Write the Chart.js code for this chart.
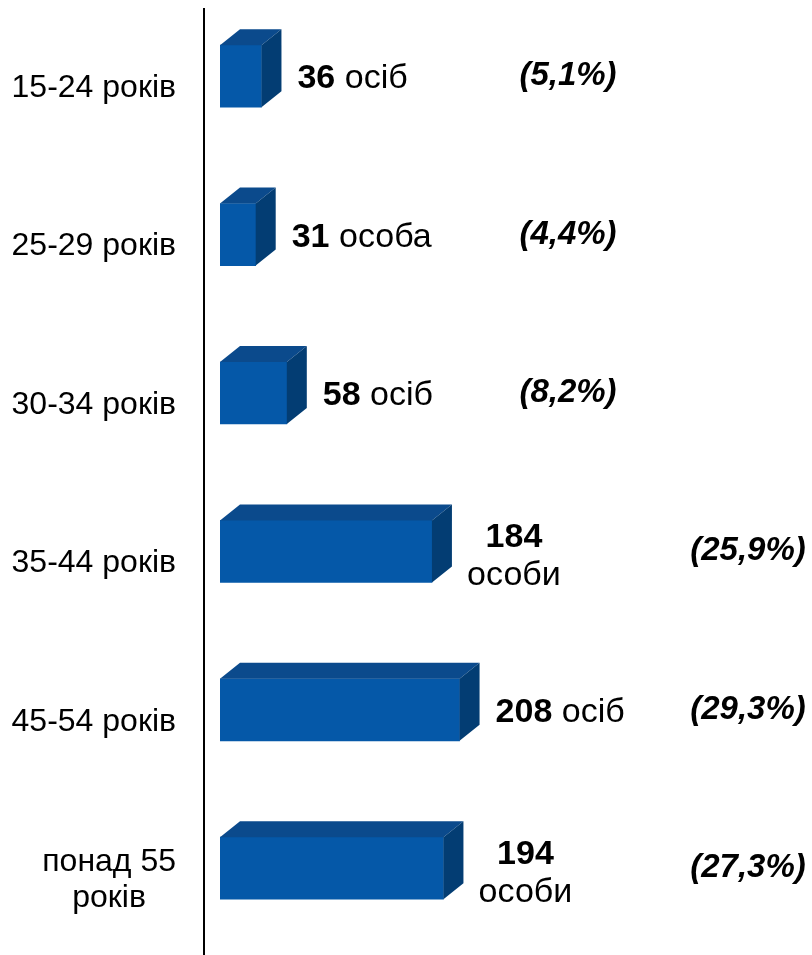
<!DOCTYPE html>
<html>
<head>
<meta charset="utf-8">
<script src="https://cdn.jsdelivr.net/npm/chart.js@4"></script>
<style>
html, body { margin: 0; padding: 0; background: #fff; }
#wrap { position: relative; width: 812px; height: 955px; overflow: hidden; }
#chart { position: absolute; left: 0; top: -3px; }
</style>
</head>
<body>
<div id="wrap"><canvas id="chart" width="812" height="961"></canvas></div>
<script>
// data
const ageGroups = ['15-24 років', '25-29 років', '30-34 років', '35-44 років', '45-54 років', ['понад 55', 'років']];
const persons = [36, 31, 58, 184, 208, 194];
const personWords = ['осіб', 'особа', 'осіб', 'особи', 'осіб', 'особи'];
const shares = [5.1, 4.4, 8.2, 25.9, 29.3, 27.3];

// look
const FONT = '"Liberation Sans", Arial, sans-serif';
const FRONT = '#0558a8';
const TOP = '#0b4a8c';
const SIDE = '#033d73';
const DX = 20, DY = 16;

// 3D faces, labels and the left rule
const boxPlugin = {
    id: 'box3d',
    afterDatasetsDraw(chart) {
        const ctx = chart.ctx;
        const meta = chart.getDatasetMeta(0);
        ctx.save();
        meta.data.forEach((bar) => {
            const p = bar.getProps(['x', 'y', 'base', 'height'], true);
            const l = p.base, r = p.x, t = p.y - p.height / 2, b = p.y + p.height / 2;
            ctx.fillStyle = TOP;
            ctx.beginPath();
            ctx.moveTo(l, t); ctx.lineTo(l + DX, t - DY); ctx.lineTo(r + DX, t - DY); ctx.lineTo(r, t);
            ctx.closePath(); ctx.fill();
            ctx.fillStyle = SIDE;
            ctx.beginPath();
            ctx.moveTo(r, t); ctx.lineTo(r + DX, t - DY); ctx.lineTo(r + DX, b - DY); ctx.lineTo(r, b);
            ctx.closePath(); ctx.fill();
        });
        ctx.restore();
    },
    afterDraw(chart) {
        const ctx = chart.ctx;
        const yScale = chart.scales.y;
        const meta = chart.getDatasetMeta(0);
        ctx.save();

        // left rule
        ctx.strokeStyle = '#000';
        ctx.lineWidth = 2;
        ctx.beginPath();
        ctx.moveTo(204, 11);
        ctx.lineTo(204, chart.height);
        ctx.stroke();

        // category labels
        ctx.fillStyle = '#000';
        ctx.font = '32px ' + FONT;
        ctx.textBaseline = 'middle';
        ctx.textAlign = 'center';
        ageGroups.forEach((lab, i) => {
            const lines = Array.isArray(lab) ? lab : [lab];
            const w = Math.max(...lines.map(s => ctx.measureText(s).width));
            const cx = 176 - w / 2;
            const cy = yScale.getPixelForTick(i) + 12;
            const lh = 36;
            lines.forEach((s, k) => {
                ctx.fillText(s, cx, cy + (k - (lines.length - 1) / 2) * lh);
            });
        });

        // value labels
        ctx.textBaseline = 'alphabetic';
        meta.data.forEach((bar, i) => {
            const p = bar.getProps(['x', 'y'], true);
            const num = String(persons[i]);
            const word = personWords[i];
            if (word === 'особи') {
                const cx = p.x + 82;
                ctx.textAlign = 'center';
                ctx.font = 'bold 34px ' + FONT;
                ctx.fillText(num, cx, p.y - 4);
                ctx.font = '34px ' + FONT;
                ctx.fillText(word, cx, p.y + 34);
            } else {
                let x = p.x + 36;
                ctx.textAlign = 'left';
                ctx.font = 'bold 34px ' + FONT;
                ctx.fillText(num, x, p.y + 12);
                x += ctx.measureText(num + ' ').width;
                ctx.font = '34px ' + FONT;
                ctx.fillText(word, x, p.y + 12);
            }

            // share
            ctx.textAlign = 'center';
            ctx.textBaseline = 'middle';
            ctx.font = 'italic bold 33px ' + FONT;
            const sx = shares[i] > 10 ? 748 : 568;
            ctx.fillText('(' + shares[i].toFixed(1).replace('.', ',') + '%)', sx, p.y);
            ctx.textBaseline = 'alphabetic';
        });

        ctx.restore();
    }
};

new Chart(document.getElementById('chart'), {
    type: 'bar',
    data: {
        labels: ageGroups,
        datasets: [{
            data: persons,
            backgroundColor: FRONT,
            borderWidth: 0,
            barThickness: 62
        }]
    },
    options: {
        indexAxis: 'y',
        responsive: false,
        animation: false,
        devicePixelRatio: 1,
        layout: { padding: { left: 220, right: 0, top: 0, bottom: 10.6 } },
        plugins: {
            legend: { display: false },
            tooltip: { enabled: false }
        },
        scales: {
            x: { display: false, min: 0, max: 514 },
            y: { display: false }
        }
    },
    plugins: [boxPlugin]
});
</script>
</body>
</html>
